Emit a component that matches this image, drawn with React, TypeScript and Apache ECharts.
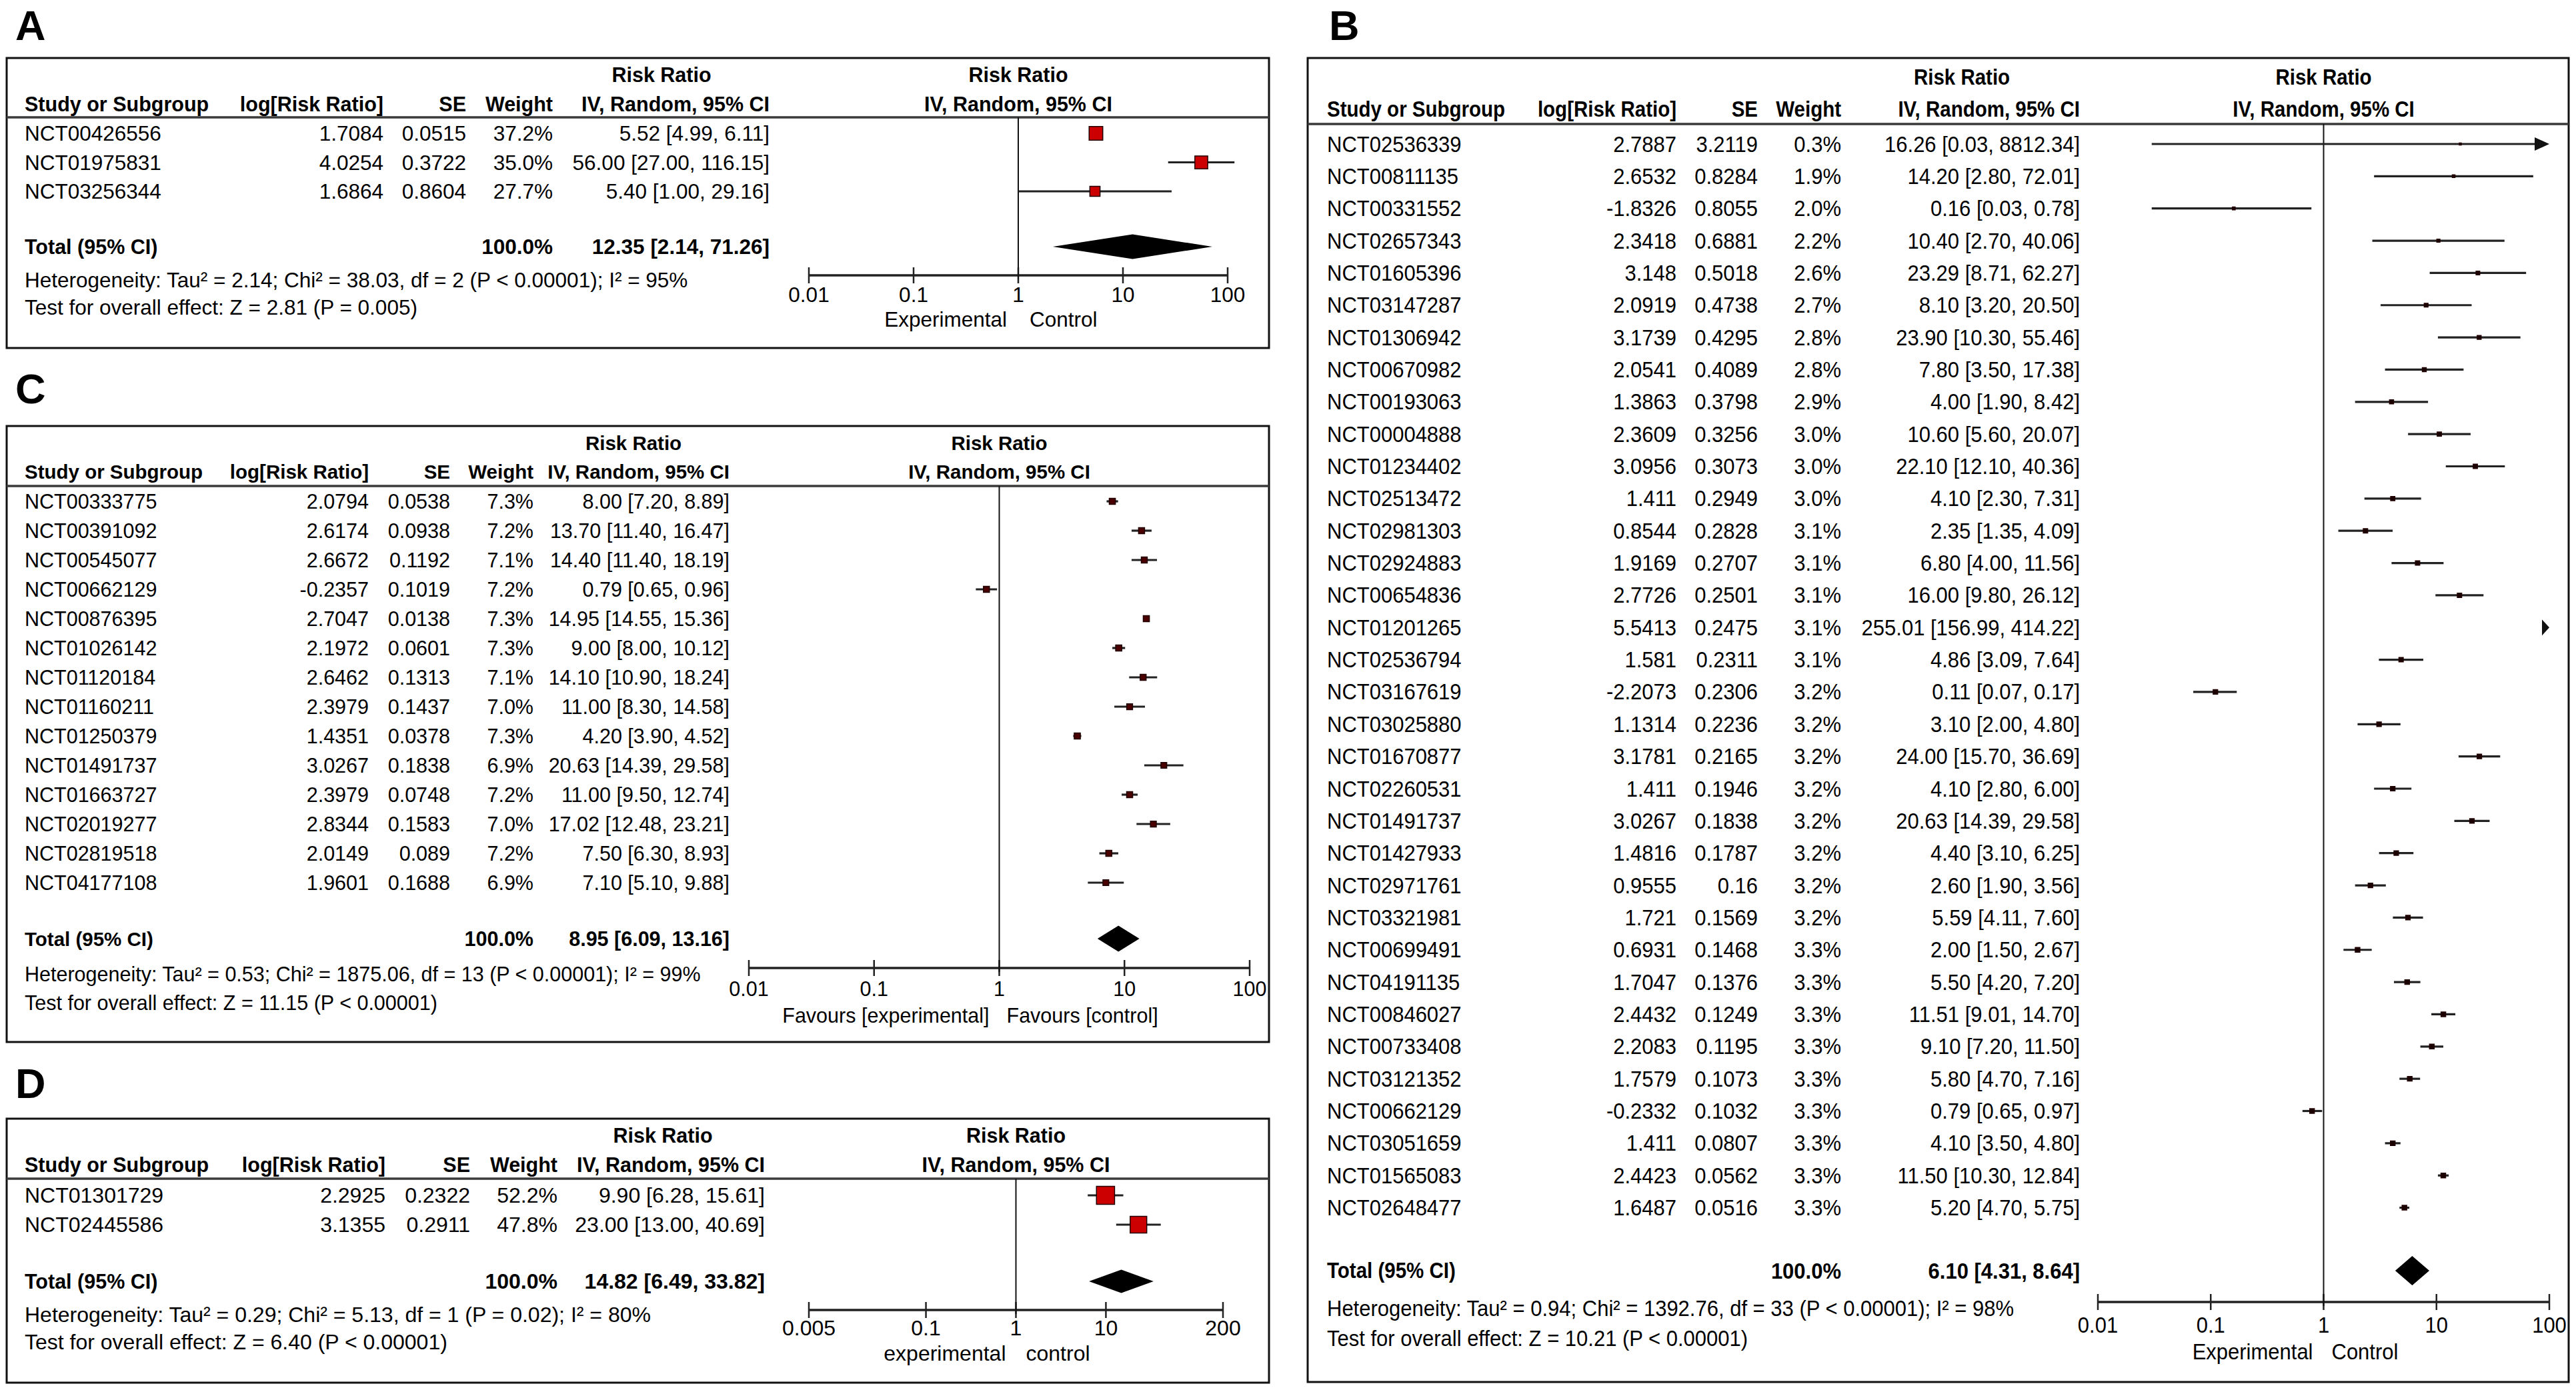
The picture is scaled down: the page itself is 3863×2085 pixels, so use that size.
import React, { useEffect, useRef } from "react";
import * as echarts from "echarts";

const FONT = '"Liberation Sans", Arial, Helvetica, sans-serif';

// ---------- Panel A ----------
const aStudies = ["NCT00426556", "NCT01975831", "NCT03256344"];
const aLogRR = [1.7084, 4.0254, 1.6864];
const aSE = [0.0515, 0.3722, 0.8604];
const aWeight = [37.2, 35.0, 27.7];
const aRR = [5.52, 56.0, 5.4];
const aLower = [4.99, 27.0, 1.0];
const aUpper = [6.11, 116.15, 29.16];
const aTotal = [12.35, 2.14, 71.26];
const aHet = "Heterogeneity: Tau² = 2.14; Chi² = 38.03, df = 2 (P < 0.00001); I² = 95%";
const aTest = "Test for overall effect: Z = 2.81 (P = 0.005)";
const aTicks = [0.01, 0.1, 1, 10, 100];
const aTickLabels = ["0.01", "0.1", "1", "10", "100"];
const aFavours = ["Experimental", "Control"];

// ---------- Panel B ----------
const bStudies = [
  "NCT02536339", "NCT00811135", "NCT00331552", "NCT02657343", "NCT01605396", "NCT03147287",
  "NCT01306942", "NCT00670982", "NCT00193063", "NCT00004888", "NCT01234402", "NCT02513472",
  "NCT02981303", "NCT02924883", "NCT00654836", "NCT01201265", "NCT02536794", "NCT03167619",
  "NCT03025880", "NCT01670877", "NCT02260531", "NCT01491737", "NCT01427933", "NCT02971761",
  "NCT03321981", "NCT00699491", "NCT04191135", "NCT00846027", "NCT00733408", "NCT03121352",
  "NCT00662129", "NCT03051659", "NCT01565083", "NCT02648477",
];
const bLogRR = [
  2.7887, 2.6532, -1.8326, 2.3418, 3.148, 2.0919, 3.1739, 2.0541, 1.3863, 2.3609, 3.0956, 1.411,
  0.8544, 1.9169, 2.7726, 5.5413, 1.581, -2.2073, 1.1314, 3.1781, 1.411, 3.0267, 1.4816, 0.9555,
  1.721, 0.6931, 1.7047, 2.4432, 2.2083, 1.7579, -0.2332, 1.411, 2.4423, 1.6487,
];
const bSE = [
  3.2119, 0.8284, 0.8055, 0.6881, 0.5018, 0.4738, 0.4295, 0.4089, 0.3798, 0.3256, 0.3073, 0.2949,
  0.2828, 0.2707, 0.2501, 0.2475, 0.2311, 0.2306, 0.2236, 0.2165, 0.1946, 0.1838, 0.1787, 0.16,
  0.1569, 0.1468, 0.1376, 0.1249, 0.1195, 0.1073, 0.1032, 0.0807, 0.0562, 0.0516,
];
const bWeight = [
  0.3, 1.9, 2.0, 2.2, 2.6, 2.7, 2.8, 2.8, 2.9, 3.0, 3.0, 3.0, 3.1, 3.1, 3.1, 3.1, 3.1, 3.2, 3.2,
  3.2, 3.2, 3.2, 3.2, 3.2, 3.2, 3.3, 3.3, 3.3, 3.3, 3.3, 3.3, 3.3, 3.3, 3.3,
];
const bRR = [
  16.26, 14.2, 0.16, 10.4, 23.29, 8.1, 23.9, 7.8, 4.0, 10.6, 22.1, 4.1, 2.35, 6.8, 16.0, 255.01,
  4.86, 0.11, 3.1, 24.0, 4.1, 20.63, 4.4, 2.6, 5.59, 2.0, 5.5, 11.51, 9.1, 5.8, 0.79, 4.1, 11.5, 5.2,
];
const bLower = [
  0.03, 2.8, 0.03, 2.7, 8.71, 3.2, 10.3, 3.5, 1.9, 5.6, 12.1, 2.3, 1.35, 4.0, 9.8, 156.99, 3.09,
  0.07, 2.0, 15.7, 2.8, 14.39, 3.1, 1.9, 4.11, 1.5, 4.2, 9.01, 7.2, 4.7, 0.65, 3.5, 10.3, 4.7,
];
const bUpper = [
  8812.34, 72.01, 0.78, 40.06, 62.27, 20.5, 55.46, 17.38, 8.42, 20.07, 40.36, 7.31, 4.09, 11.56,
  26.12, 414.22, 7.64, 0.17, 4.8, 36.69, 6.0, 29.58, 6.25, 3.56, 7.6, 2.67, 7.2, 14.7, 11.5, 7.16,
  0.97, 4.8, 12.84, 5.75,
];
const bTotal = [6.1, 4.31, 8.64];
const bHet = "Heterogeneity: Tau² = 0.94; Chi² = 1392.76, df = 33 (P < 0.00001); I² = 98%";
const bTest = "Test for overall effect: Z = 10.21 (P < 0.00001)";
const bTicks = [0.01, 0.1, 1, 10, 100];
const bTickLabels = ["0.01", "0.1", "1", "10", "100"];
const bFavours = ["Experimental", "Control"];

// ---------- Panel C ----------
const cStudies = [
  "NCT00333775", "NCT00391092", "NCT00545077", "NCT00662129", "NCT00876395", "NCT01026142",
  "NCT01120184", "NCT01160211", "NCT01250379", "NCT01491737", "NCT01663727", "NCT02019277",
  "NCT02819518", "NCT04177108",
];
const cLogRR = [2.0794, 2.6174, 2.6672, -0.2357, 2.7047, 2.1972, 2.6462, 2.3979, 1.4351, 3.0267, 2.3979, 2.8344, 2.0149, 1.9601];
const cSE = [0.0538, 0.0938, 0.1192, 0.1019, 0.0138, 0.0601, 0.1313, 0.1437, 0.0378, 0.1838, 0.0748, 0.1583, 0.089, 0.1688];
const cWeight = [7.3, 7.2, 7.1, 7.2, 7.3, 7.3, 7.1, 7.0, 7.3, 6.9, 7.2, 7.0, 7.2, 6.9];
const cRR = [8.0, 13.7, 14.4, 0.79, 14.95, 9.0, 14.1, 11.0, 4.2, 20.63, 11.0, 17.02, 7.5, 7.1];
const cLower = [7.2, 11.4, 11.4, 0.65, 14.55, 8.0, 10.9, 8.3, 3.9, 14.39, 9.5, 12.48, 6.3, 5.1];
const cUpper = [8.89, 16.47, 18.19, 0.96, 15.36, 10.12, 18.24, 14.58, 4.52, 29.58, 12.74, 23.21, 8.93, 9.88];
const cTotal = [8.95, 6.09, 13.16];
const cHet = "Heterogeneity: Tau² = 0.53; Chi² = 1875.06, df = 13 (P < 0.00001); I² = 99%";
const cTest = "Test for overall effect: Z = 11.15 (P < 0.00001)";
const cTicks = [0.01, 0.1, 1, 10, 100];
const cTickLabels = ["0.01", "0.1", "1", "10", "100"];
const cFavours = ["Favours [experimental]", "Favours [control]"];

// ---------- Panel D ----------
const dStudies = ["NCT01301729", "NCT02445586"];
const dLogRR = [2.2925, 3.1355];
const dSE = [0.2322, 0.2911];
const dWeight = [52.2, 47.8];
const dRR = [9.9, 23.0];
const dLower = [6.28, 13.0];
const dUpper = [15.61, 40.69];
const dTotal = [14.82, 6.49, 33.82];
const dHet = "Heterogeneity: Tau² = 0.29; Chi² = 5.13, df = 1 (P = 0.02); I² = 80%";
const dTest = "Test for overall effect: Z = 6.40 (P < 0.00001)";
const dTicks = [0.005, 0.1, 1, 10, 200];
const dTickLabels = ["0.005", "0.1", "1", "10", "200"];
const dFavours = ["experimental", "control"];

// header texts
const hdrStudy = "Study or Subgroup";
const hdrLog = "log[Risk Ratio]";
const hdrSE = "SE";
const hdrWeight = "Weight";
const hdrRR = "Risk Ratio";
const hdrMethod = "IV, Random, 95% CI";
const totalLabel = "Total (95% CI)";
const totalWeight = "100.0%";

const panels: any[] = [
  {
    letter: "A",
    d: { studies: aStudies, logRR: aLogRR, se: aSE, weight: aWeight, rr: aRR, lower: aLower, upper: aUpper, total: aTotal, het: aHet, test: aTest, ticks: aTicks, tickLabels: aTickLabels, favours: aFavours },
    L: {
      box: [10, 87, 1903, 522], letterX: 23, letterY: 38, font: 31.5, hFont: 30.5, sy: 1,
      hdr1Y: 112, hdr2Y: 156, sepY: 176, row0Y: 200, rowSp: 43.5, totalY: 370, hetY: 420, testY: 461,
      axisY: 413, tickLabelY: 442, favY: 479, xMinPx: 1213, xMaxPx: 1841, axisMin: 0.01, axisMax: 100,
      colStudy: 37, colLog: 575, colSE: 699, colW: 829, colCI: 1154, rrHdrX: 992,
      markerK: 0.55, markerMin: 4, markerFill: "#cc0000", diamondHalf: 18.5, favGapL: 17, favGapR: 17, clipCI: false,
    },
  },
  {
    letter: "B",
    d: { studies: bStudies, logRR: bLogRR, se: bSE, weight: bWeight, rr: bRR, lower: bLower, upper: bUpper, total: bTotal, het: bHet, test: bTest, ticks: bTicks, tickLabels: bTickLabels, favours: bFavours },
    L: {
      box: [1961, 87, 3852, 2073], letterX: 1993, letterY: 38, font: 31, hFont: 29.5, sy: 1.1,
      hdr1Y: 116, hdr2Y: 164, sepY: 186, row0Y: 216, rowSp: 48.35, totalY: 1906, hetY: 1962, testY: 2007,
      axisY: 1953, tickLabelY: 1987, favY: 2027, xMinPx: 3146, xMaxPx: 3823, axisMin: 0.01, axisMax: 100,
      colStudy: 1990, colLog: 2514, colSE: 2636, colW: 2761, colCI: 3119, rrHdrX: 2942,
      markerK: 2.1, markerMin: 3, markerFill: "#1a0000", diamondHalf: 22, favGapL: 16, favGapR: 12, clipCI: true,
    },
  },
  {
    letter: "C",
    d: { studies: cStudies, logRR: cLogRR, se: cSE, weight: cWeight, rr: cRR, lower: cLower, upper: cUpper, total: cTotal, het: cHet, test: cTest, ticks: cTicks, tickLabels: cTickLabels, favours: cFavours },
    L: {
      box: [10, 639, 1903, 1563], letterX: 23, letterY: 583, font: 30.5, hFont: 29.5, sy: 1,
      hdr1Y: 664, hdr2Y: 707, sepY: 729, row0Y: 752, rowSp: 44, totalY: 1408, hetY: 1461, testY: 1504,
      axisY: 1452, tickLabelY: 1483, favY: 1523, xMinPx: 1123, xMaxPx: 1874, axisMin: 0.01, axisMax: 100,
      colStudy: 37, colLog: 553, colSE: 675, colW: 800, colCI: 1094, rrHdrX: 950,
      markerK: 1.25, markerMin: 4, markerFill: "#4a0000", diamondHalf: 19.5, favGapL: 15, favGapR: 11, clipCI: true,
    },
  },
  {
    letter: "D",
    d: { studies: dStudies, logRR: dLogRR, se: dSE, weight: dWeight, rr: dRR, lower: dLower, upper: dUpper, total: dTotal, het: dHet, test: dTest, ticks: dTicks, tickLabels: dTickLabels, favours: dFavours },
    L: {
      box: [10, 1678, 1903, 2074], letterX: 23, letterY: 1625, font: 32, hFont: 30.5, sy: 1,
      hdr1Y: 1703, hdr2Y: 1747, sepY: 1768, row0Y: 1793, rowSp: 44, totalY: 1922, hetY: 1972, testY: 2013,
      axisY: 1965, tickLabelY: 1992, favY: 2030, xMinPx: 1213, xMaxPx: 1834, axisMin: 0.005, axisMax: 200,
      colStudy: 37, colLog: 578, colSE: 705, colW: 836, colCI: 1147, rrHdrX: 994,
      markerK: 0.52, markerMin: 4, markerFill: "#cc0000", diamondHalf: 17.5, favGapL: 15, favGapR: 15, clipCI: true,
    },
  },
];

function txt(text: string, x: number, y: number, align: string, size: number, bold = false, sy = 1): any {
  return {
    type: "text",
    x,
    y,
    scaleY: sy,
    silent: true,
    style: {
      text,
      fill: "#000",
      fontSize: size,
      fontFamily: FONT,
      fontWeight: bold ? "bold" : "normal",
      lineHeight: Math.round(size * 0.8),
      align,
      verticalAlign: "middle",
      textAlign: align,
      textVerticalAlign: "middle",
    },
  };
}

function fmtCI(r: number, lo: number, hi: number) {
  return `${r.toFixed(2)} [${lo.toFixed(2)}, ${hi.toFixed(2)}]`;
}

function buildOption() {
  const grid: any[] = [];
  const xAxis: any[] = [];
  const yAxis: any[] = [];
  const series: any[] = [];
  const graphic: any[] = [];

  panels.forEach((p, gi) => {
    const { d, L } = p;
    const yMin = (L.sepY - L.row0Y) / L.rowSp;
    const yMax = (L.axisY - L.row0Y) / L.rowSp;
    const totalIdx = (L.totalY - L.row0Y) / L.rowSp;
    const F = L.font;
    const HF = L.hFont;
    const S = L.sy;

    grid.push({ left: L.xMinPx, top: L.sepY, width: L.xMaxPx - L.xMinPx, height: L.axisY - L.sepY, show: false });
    xAxis.push({ type: "log", logBase: 10, min: L.axisMin, max: L.axisMax, gridIndex: gi, show: false });
    yAxis.push({ type: "value", inverse: true, min: yMin, max: yMax, gridIndex: gi, show: false });

    // static frame & headers
    const [bx1, by1, bx2, by2] = L.box;
    graphic.push({
      type: "rect",
      silent: true,
      shape: { x: bx1, y: by1, width: bx2 - bx1, height: by2 - by1 },
      style: { fill: "none", stroke: "#111", lineWidth: 3 },
    });
    graphic.push({
      type: "line",
      silent: true,
      shape: { x1: bx1, y1: L.sepY, x2: bx2, y2: L.sepY },
      style: { stroke: "#3a3a3a", lineWidth: 3.5 },
    });
    graphic.push(txt(p.letter, L.letterX, L.letterY, "left", 63, true));
    graphic.push(txt(hdrRR, L.rrHdrX, L.hdr1Y, "center", HF, true, S));
    graphic.push(txt(hdrStudy, L.colStudy, L.hdr2Y, "left", HF, true, S));
    graphic.push(txt(hdrLog, L.colLog, L.hdr2Y, "right", HF, true, S));
    graphic.push(txt(hdrSE, L.colSE, L.hdr2Y, "right", HF, true, S));
    graphic.push(txt(hdrWeight, L.colW, L.hdr2Y, "right", HF, true, S));
    graphic.push(txt(hdrMethod, L.colCI, L.hdr2Y, "right", HF, true, S));
    graphic.push(txt(d.het, L.colStudy, L.hetY, "left", F, false, S));
    graphic.push(txt(d.test, L.colStudy, L.testY, "left", F, false, S));

    // axis, reference line, plot headers, favours labels
    series.push({
      type: "custom",
      xAxisIndex: gi,
      yAxisIndex: gi,
      clip: false,
      silent: true,
      z: 1,
      data: d.ticks.map((v: number) => [v, yMax]),
      renderItem: (params: any, api: any) => {
        const i = params.dataIndex;
        const v = d.ticks[i];
        const pt = api.coord([v, yMax]);
        const children: any[] = [];
        if (i === 0) {
          const a = api.coord([L.axisMin, yMax]);
          const b = api.coord([L.axisMax, yMax]);
          children.push({ type: "line", shape: { x1: a[0], y1: a[1], x2: b[0], y2: b[1] }, style: { stroke: "#222", lineWidth: 3.5 } });
        }
        children.push({ type: "line", shape: { x1: pt[0], y1: pt[1] - 12, x2: pt[0], y2: pt[1] + 12 }, style: { stroke: "#222", lineWidth: 2.5 } });
        children.push(txt(d.tickLabels[i], pt[0], pt[1] + (L.tickLabelY - L.axisY), "center", F, false, S));
        if (v === 1) {
          const top = api.coord([1, yMin]);
          children.push({ type: "line", shape: { x1: pt[0], y1: top[1], x2: pt[0], y2: pt[1] + 6 }, style: { stroke: "#111", lineWidth: 2 } });
          children.push(txt(hdrRR, pt[0], pt[1] + (L.hdr1Y - L.axisY), "center", HF, true, S));
          children.push(txt(hdrMethod, pt[0], pt[1] + (L.hdr2Y - L.axisY), "center", HF, true, S));
          children.push(txt(d.favours[0], pt[0] - L.favGapL, pt[1] + (L.favY - L.axisY), "right", F, false, S));
          children.push(txt(d.favours[1], pt[0] + L.favGapR, pt[1] + (L.favY - L.axisY), "left", F, false, S));
        }
        return { type: "group", children };
      },
    });

    // study rows
    series.push({
      type: "custom",
      xAxisIndex: gi,
      yAxisIndex: gi,
      clip: false,
      silent: true,
      z: 3,
      data: d.rr.map((r: number, i: number) => [r, i]),
      renderItem: (params: any, api: any) => {
        const i = params.dataIndex;
        const y = api.coord([1, i])[1];
        const children: any[] = [];
        children.push(txt(d.studies[i], L.colStudy, y, "left", F, false, S));
        children.push(txt(String(d.logRR[i]), L.colLog, y, "right", F, false, S));
        children.push(txt(String(d.se[i]), L.colSE, y, "right", F, false, S));
        children.push(txt(d.weight[i].toFixed(1) + "%", L.colW, y, "right", F, false, S));
        children.push(txt(fmtCI(d.rr[i], d.lower[i], d.upper[i]), L.colCI, y, "right", F, false, S));

        const xMaxP = api.coord([L.axisMax, i])[0];
        const xMinP = api.coord([L.axisMin, i])[0];
        const lo = d.lower[i];
        const hi = d.upper[i];
        const r = d.rr[i];
        if (L.clipCI && lo > L.axisMax) {
          children.push({ type: "polygon", shape: { points: [[xMaxP, y], [xMaxP - 11, y - 12], [xMaxP - 11, y + 12]] }, style: { fill: "#111" } });
        } else {
          let x1 = api.coord([lo, i])[0];
          let x2 = api.coord([hi, i])[0];
          const arrowR = L.clipCI && hi > L.axisMax;
          const arrowL = L.clipCI && lo < L.axisMin;
          if (arrowR) x2 = xMaxP;
          if (arrowL) x1 = xMinP;
          children.push({ type: "line", shape: { x1, y1: y, x2: arrowR ? x2 - 10 : x2, y2: y }, style: { stroke: "#222", lineWidth: 3.2 } });
          if (arrowR) children.push({ type: "polygon", shape: { points: [[x2, y], [x2 - 22, y - 10], [x2 - 22, y + 10]] }, style: { fill: "#111" } });
          if (arrowL) children.push({ type: "polygon", shape: { points: [[x1, y], [x1 + 22, y - 10], [x1 + 22, y + 10]] }, style: { fill: "#111" } });
          if (!L.clipCI || (r >= L.axisMin && r <= L.axisMax)) {
            const xr = api.coord([r, i])[0];
            const s = Math.max(L.markerMin, L.markerK * d.weight[i]);
            children.push({
              type: "rect",
              shape: { x: xr - s / 2, y: y - s / 2, width: s, height: s },
              style: { fill: L.markerFill, stroke: "#200000", lineWidth: 1.5 },
            });
          }
        }
        return { type: "group", children };
      },
    });

    // total diamond + total row text
    series.push({
      type: "custom",
      xAxisIndex: gi,
      yAxisIndex: gi,
      clip: false,
      silent: true,
      z: 3,
      data: [[d.total[0], totalIdx]],
      renderItem: (params: any, api: any) => {
        const c = api.coord([d.total[0], totalIdx]);
        const xl = api.coord([d.total[1], totalIdx])[0];
        const xh = api.coord([d.total[2], totalIdx])[0];
        const y = c[1];
        const h = L.diamondHalf;
        return {
          type: "group",
          children: [
            { type: "polygon", shape: { points: [[xl, y], [c[0], y - h], [xh, y], [c[0], y + h]] }, style: { fill: "#000" } },
            txt(totalLabel, L.colStudy, y, "left", HF, true, S),
            txt(totalWeight, L.colW, y, "right", F, true, S),
            txt(fmtCI(d.total[0], d.total[1], d.total[2]), L.colCI, y, "right", F, true, S),
          ],
        };
      },
    });
  });

  return {
    animation: false,
    backgroundColor: "#ffffff",
    grid,
    xAxis,
    yAxis,
    series,
    graphic: { elements: graphic },
  };
}

export default function App() {
  const ref = useRef<HTMLDivElement>(null);
  useEffect(() => {
    document.body.style.margin = "0";
    if (!ref.current) return;
    const chart = echarts.init(ref.current, null, { renderer: "svg" });
    chart.setOption(buildOption() as any);
    return () => chart.dispose();
  }, []);
  return <div ref={ref} style={{ width: 3863, height: 2085, background: "#fff" }} />;
}
